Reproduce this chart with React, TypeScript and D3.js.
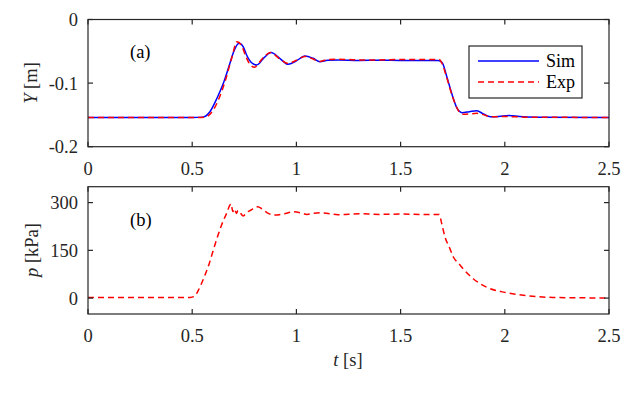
import * as d3 from 'd3';
import React from 'react';

// time stamps [s] and displacement Y [m] -- simulation
const simT = [0, 0.5, 0.55, 0.585, 0.62, 0.65, 0.68, 0.7, 0.725, 0.745, 0.76, 0.785, 0.81, 0.845, 0.878, 0.92, 0.96, 1.0, 1.04, 1.08, 1.113, 1.15, 1.2, 1.3, 1.4, 1.5, 1.6, 1.68, 1.7, 1.72, 1.745, 1.77, 1.795, 1.83, 1.865, 1.9, 1.93, 1.97, 2.02, 2.07, 2.15, 2.5];
const simY = [-0.154, -0.154, -0.1535, -0.145, -0.123, -0.1, -0.07, -0.05, -0.0375, -0.043, -0.055, -0.068, -0.0715, -0.06, -0.052, -0.061, -0.0705, -0.065, -0.0575, -0.061, -0.0663, -0.064, -0.0635, -0.0645, -0.064, -0.0645, -0.0645, -0.0645, -0.068, -0.088, -0.116, -0.139, -0.1465, -0.145, -0.1435, -0.149, -0.1528, -0.1525, -0.151, -0.1525, -0.1535, -0.154];

// experiment
const expT = [0, 0.5, 0.56, 0.6, 0.63, 0.66, 0.69, 0.715, 0.735, 0.76, 0.78, 0.8, 0.82, 0.85, 0.875, 0.92, 0.96, 1.0, 1.04, 1.08, 1.11, 1.15, 1.2, 1.3, 1.4, 1.5, 1.6, 1.685, 1.7, 1.72, 1.75, 1.775, 1.8, 1.83, 1.865, 1.9, 1.93, 2.0, 2.1, 2.5];
const expY = [-0.154, -0.154, -0.1535, -0.143, -0.123, -0.095, -0.06, -0.035, -0.04, -0.06, -0.072, -0.075, -0.068, -0.057, -0.052, -0.062, -0.069, -0.064, -0.058, -0.062, -0.066, -0.063, -0.0625, -0.0635, -0.0635, -0.063, -0.063, -0.063, -0.07, -0.09, -0.122, -0.142, -0.149, -0.1485, -0.1475, -0.15, -0.153, -0.1525, -0.1535, -0.154];

// pressure p [kPa] -- experiment
const pT = [0, 0.1, 0.2, 0.3, 0.4, 0.49, 0.51, 0.53, 0.555, 0.58, 0.6, 0.62, 0.64, 0.665, 0.686, 0.695, 0.703, 0.712, 0.72, 0.73, 0.745, 0.76, 0.78, 0.815, 0.835, 0.86, 0.9, 0.94, 0.985, 1.02, 1.05, 1.08, 1.12, 1.2, 1.3, 1.4, 1.5, 1.6, 1.685, 1.697, 1.713, 1.735, 1.753, 1.78, 1.8, 1.85, 1.91, 2.0, 2.1, 2.23, 2.35, 2.5];
const pV = [2, 2, 1.5, 2, 1.5, 2, 5, 25, 62, 105, 148, 190, 228, 266, 296, 272, 281, 266, 275, 268, 258, 268, 276, 287, 280, 268, 261, 265, 271, 268, 263, 266, 268, 262, 265, 263, 264, 263, 263, 235, 192, 158, 129, 108, 92, 60, 35, 18, 8, 2, 1, 0];

const tTicks = [0, 0.5, 1, 1.5, 2, 2.5];
const yTicks = [0, -0.1, -0.2];
const pTicks = [0, 150, 300];

const FONT = '"Liberation Serif", "Times New Roman", serif';
const AX = '#262626';

const x = d3.scaleLinear([0, 2.5], [88, 609]);
const yA = d3.scaleLinear([-0.2, 0], [146.7, 19.5]);
const yB = d3.scaleLinear([-50, 350], [314, 186.7]);

const Frame = ({ y, ticks, fmt }) => {
  const [y0, y1] = y.range();
  const tk = 5;
  return (
    <g stroke={AX} strokeWidth={1.2} fill="none">
      <rect x={x(0)} y={y1} width={x(2.5) - x(0)} height={y0 - y1} />
      {tTicks.map((t) => (
        <g key={t}>
          <line x1={x(t)} x2={x(t)} y1={y0} y2={y0 - tk} />
          <line x1={x(t)} x2={x(t)} y1={y1} y2={y1 + tk} />
          <text x={x(t)} y={y0 + 28} textAnchor="middle" stroke="none" fill={AX} fontSize={18.5} fontFamily={FONT}>
            {t}
          </text>
        </g>
      ))}
      {ticks.map((v) => (
        <g key={v}>
          <line x1={x(0)} x2={x(0) + tk} y1={y(v)} y2={y(v)} />
          <line x1={x(2.5)} x2={x(2.5) - tk} y1={y(v)} y2={y(v)} />
          <text x={78} y={y(v)} dy="0.35em" textAnchor="end" stroke="none" fill={AX} fontSize={18.5} fontFamily={FONT}>
            {fmt(v)}
          </text>
        </g>
      ))}
    </g>
  );
};

export default function App() {
  const lineA = (ts, vs) =>
    d3.line((d, i) => x(ts[i]), (d) => yA(d)).curve(d3.curveMonotoneX)(vs);
  const lineP = d3.line((d, i) => x(pT[i]), (d) => yB(d)).curve(d3.curveMonotoneX);

  return (
    <svg width={628} height={393} style={{ position: 'absolute', left: 0, top: 0, background: '#fff' }}>
      {/* panel (a) */}
      <path d={lineA(simT, simY)} fill="none" stroke="#0000ff" strokeWidth={1.5} />
      <path d={lineA(expT, expY)} fill="none" stroke="#ff0000" strokeWidth={1.5} strokeDasharray="6,4" />
      <Frame y={yA} ticks={yTicks} fmt={(v) => (v === 0 ? '0' : String(v))} />
      <text x={130} y={58} fontSize={18.5} fontFamily={FONT} fill="#000">(a)</text>
      <text transform="translate(37,83) rotate(-90)" textAnchor="middle" fontSize={18.5} fontFamily={FONT} fill={AX}>
        <tspan fontStyle="italic">Y</tspan> [m]
      </text>

      {/* legend */}
      <rect x={469} y={46} width={113} height={52} fill="#fff" stroke={AX} strokeWidth={1.2} />
      <line x1={478} x2={539} y1={61} y2={61} stroke="#0000ff" strokeWidth={1.5} />
      <line x1={478} x2={539} y1={82} y2={82} stroke="#ff0000" strokeWidth={1.5} strokeDasharray="6,4" />
      <text x={546} y={67} fontSize={18} fontFamily={FONT} fill="#000">Sim</text>
      <text x={546} y={88} fontSize={18} fontFamily={FONT} fill="#000">Exp</text>

      {/* panel (b) */}
      <path d={lineP(pV)} fill="none" stroke="#ff0000" strokeWidth={1.5} strokeDasharray="6,4" />
      <Frame y={yB} ticks={pTicks} fmt={(v) => String(v)} />
      <text x={130} y={226} fontSize={18.5} fontFamily={FONT} fill="#000">(b)</text>
      <text transform="translate(38,250) rotate(-90)" textAnchor="middle" fontSize={18.5} fontFamily={FONT} fill={AX}>
        <tspan fontStyle="italic">p</tspan> [kPa]
      </text>
      <text x={348} y={366} textAnchor="middle" fontSize={18.5} fontFamily={FONT} fill={AX}>
        <tspan fontStyle="italic">t</tspan> [s]
      </text>
    </svg>
  );
}
